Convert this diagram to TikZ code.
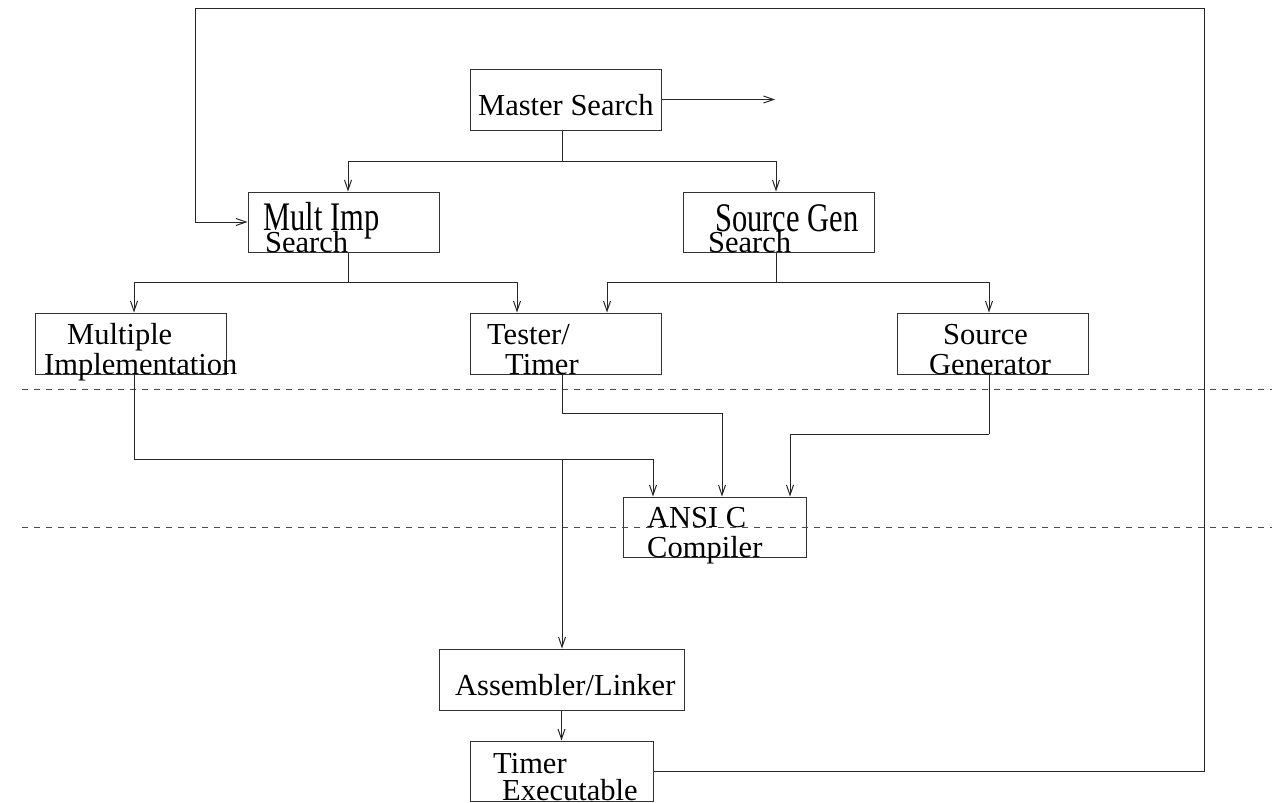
\documentclass[tikz,border=0pt]{standalone}
\usepackage{fontspec}
\setmainfont{Liberation Serif}
\usetikzlibrary{arrows.meta}
\begin{document}
\begin{tikzpicture}[x=1pt,y=-1pt,
  box/.style={draw=black!80, line width=1pt, rectangle, inner sep=0pt},
  lbl/.style={anchor=base west, inner sep=0pt, font=\fontsize{30.5}{36}\selectfont},
  wire/.style={draw=black!85, line width=1pt},
  feed/.style={wire, -{Straight Barb[length=10pt,width=7pt]}},
  divider/.style={draw=black!70, line width=1pt, dash pattern=on 6pt off 6pt}]
\useasboundingbox (0,0) rectangle (1272,803);

% process boxes
\node[box, minimum width=191pt, minimum height=61pt] (ms)  at (565.5,99.5) {};
\node[box, minimum width=191pt, minimum height=60pt] (mis) at (343.5,222) {};
\node[box, minimum width=191pt, minimum height=60pt] (sgs) at (778.5,222) {};
\node[box, minimum width=191pt, minimum height=61pt] (mi)  at (130.5,343.5) {};
\node[box, minimum width=191pt, minimum height=61pt] (tt)  at (565.5,343.5) {};
\node[box, minimum width=191pt, minimum height=61pt] (sg)  at (992.5,343.5) {};
\node[box, minimum width=183pt, minimum height=60pt] (ac)  at (714.5,527) {};
\node[box, minimum width=245pt, minimum height=61pt] (al)  at (561.5,679.5) {};
\node[box, minimum width=183pt, minimum height=60pt] (te)  at (561.5,771) {};

% box labels
\node[lbl] (ms-a)  at (478,115) {Master Search};
\node[lbl] (mis-a) at (263,230) {\scalebox{1}[1.33]{Mult Imp}};
\node[lbl] (mis-b) at (265,252) {Search};
\node[lbl] (sgs-a) at (715,231) {\scalebox{1}[1.33]{Source Gen}};
\node[lbl] (sgs-b) at (708,252) {Search};
\node[lbl] (mi-a)  at (67,344)  {Multiple};
\node[lbl] (mi-b)  at (44,374)  {Implementation};
\node[lbl] (tt-a)  at (487,344) {Tester/};
\node[lbl] (tt-b)  at (505,374) {Timer};
\node[lbl] (sg-a)  at (943,344) {Source};
\node[lbl] (sg-b)  at (929,374) {Generator};
\node[lbl] (ac-a)  at (647,527) {ANSI C};
\node[lbl] (ac-b)  at (647,557) {Compiler};
\node[lbl] (al-a)  at (455,695) {Assembler/Linker};
\node[lbl] (te-a)  at (493,773) {Timer};
\node[lbl] (te-b)  at (502,800) {Executable};

% layer separators
\draw[divider] (22,389) -- (1272,389);
\draw[divider] (22,527) -- (1272,527);

% junction points of the branching connectors
\coordinate (msout) at (775,99.5);
\coordinate (j1) at (562,161);
\coordinate (j2) at (348,282);
\coordinate (j3) at (776,282);
\coordinate (j4) at (134,459);
\coordinate (j5) at (562,459);
\coordinate (j6) at (562,413);
\coordinate (j7) at (989,434);
\coordinate (lp1) at (1204,771);
\coordinate (lp2) at (1204,8);
\coordinate (lp3) at (195,8);

% master search fan-out
\draw[feed] (ms.east) -- (msout);
\draw[wire] ([xshift=-3.5pt]ms.south) -- (j1);
\draw[feed] (j1) -| ([xshift=4.5pt]mis.north);
\draw[feed] (j1) -| ([xshift=-2.5pt]sgs.north);

% second level
\draw[wire] ([xshift=4.5pt]mis.south) -- (j2);
\draw[feed] (j2) -| ([xshift=3.5pt]mi.north);
\draw[feed] (j2) -| ([xshift=-48.5pt]tt.north);
\draw[wire] ([xshift=-2.5pt]sgs.south) -- (j3);
\draw[feed] (j3) -| ([xshift=41.5pt]tt.north);
\draw[feed] (j3) -| ([xshift=-3.5pt]sg.north);

% into the compiler and the linker
\draw[wire] ([xshift=3.5pt]mi.south) -- (j4);
\draw[feed] (j4) -| ([xshift=-61.5pt]ac.north);
\draw[feed] (j5) -- ([xshift=0.5pt]al.north);
\draw[wire] ([xshift=-3.5pt]tt.south) -- (j6);
\draw[feed] (j6) -| ([xshift=7.5pt]ac.north);
\draw[wire] ([xshift=-3.5pt]sg.south) -- (j7);
\draw[feed] (j7) -| ([xshift=75.5pt]ac.north);
\draw[feed] (al.south) -- (te.north);

% timing feedback loop
\draw[feed] (te.east) -- (lp1) -- (lp2) -- (lp3) |- (mis.west);
\end{tikzpicture}
\end{document}
